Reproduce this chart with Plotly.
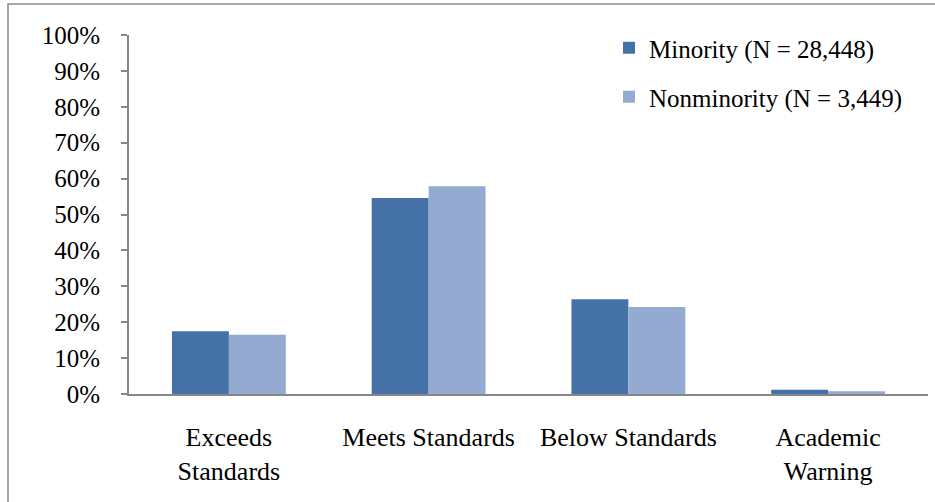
import plotly.graph_objects as go

categories = ["Exceeds<br>Standards", "Meets Standards", "Below Standards", "Academic<br>Warning"]
minority = [0.175, 0.546, 0.264, 0.012]
nonminority = [0.165, 0.579, 0.242, 0.008]
series_names = ["Minority (N = 28,448)", "Nonminority (N = 3,449)"]
tick_vals = [0, 0.1, 0.2, 0.3, 0.4, 0.5, 0.6, 0.7, 0.8, 0.9, 1.0]
tick_text = ["0%", "10%", "20%", "30%", "40%", "50%", "60%", "70%", "80%", "90%", "100%"]

W, H = 935, 502
L, R, T, B = 129, 7, 35, 108
font = "Liberation Serif, Times New Roman, serif"

fig = go.Figure()
fig.add_trace(go.Bar(x=categories, y=minority, name=series_names[0], showlegend=True,
                     marker=dict(color="#4472A7", line=dict(width=0)), legend="legend"))
fig.add_trace(go.Bar(x=categories, y=nonminority, name=series_names[1], showlegend=True,
                     marker=dict(color="#95AAD1", line=dict(width=0)), legend="legend2"))

pw = W - L - R
ph = H - T - B
def px_x(p):
    return (p - L) / pw
def px_y(p):
    return (H - B - p) / ph

fig.add_shape(type="rect", xref="paper", yref="paper",
              x0=px_x(8), x1=px_x(960), y0=px_y(530), y1=px_y(4),
              line=dict(color="#8C8C8C", width=1.5), fillcolor="rgba(0,0,0,0)", layer="below")

legend_common = dict(font=dict(family=font, size=25, color="black"), bgcolor="rgba(0,0,0,0)",
                     xanchor="left", yanchor="middle", itemwidth=30, tracegroupgap=0)
fig.update_layout(
    width=W, height=H,
    margin=dict(l=L, r=R, t=T, b=B, autoexpand=False),
    paper_bgcolor="white", plot_bgcolor="white",
    showlegend=True,
    barmode="group", bargap=0.43, bargroupgap=0,
    font=dict(family=font, size=25, color="black"),
    legend=dict(x=px_x(609), y=px_y(48), **legend_common),
    legend2=dict(x=px_x(609), y=px_y(97), **legend_common),
    xaxis=dict(showline=True, linecolor="#868686", linewidth=2, ticks="",
               automargin=False,
               tickfont=dict(family=font, size=26, color="black"),
               ticklabelstandoff=19),
    yaxis=dict(range=[0, 1], tickvals=tick_vals, ticktext=tick_text,
               automargin=False,
               showline=True, linecolor="#868686", linewidth=2,
               ticks="outside", ticklen=6, tickcolor="#868686", tickwidth=2,
               showgrid=False, zeroline=False,
               tickfont=dict(family=font, size=25, color="black"),
               ticklabelstandoff=16),
)

fig.write_html("out.html")
